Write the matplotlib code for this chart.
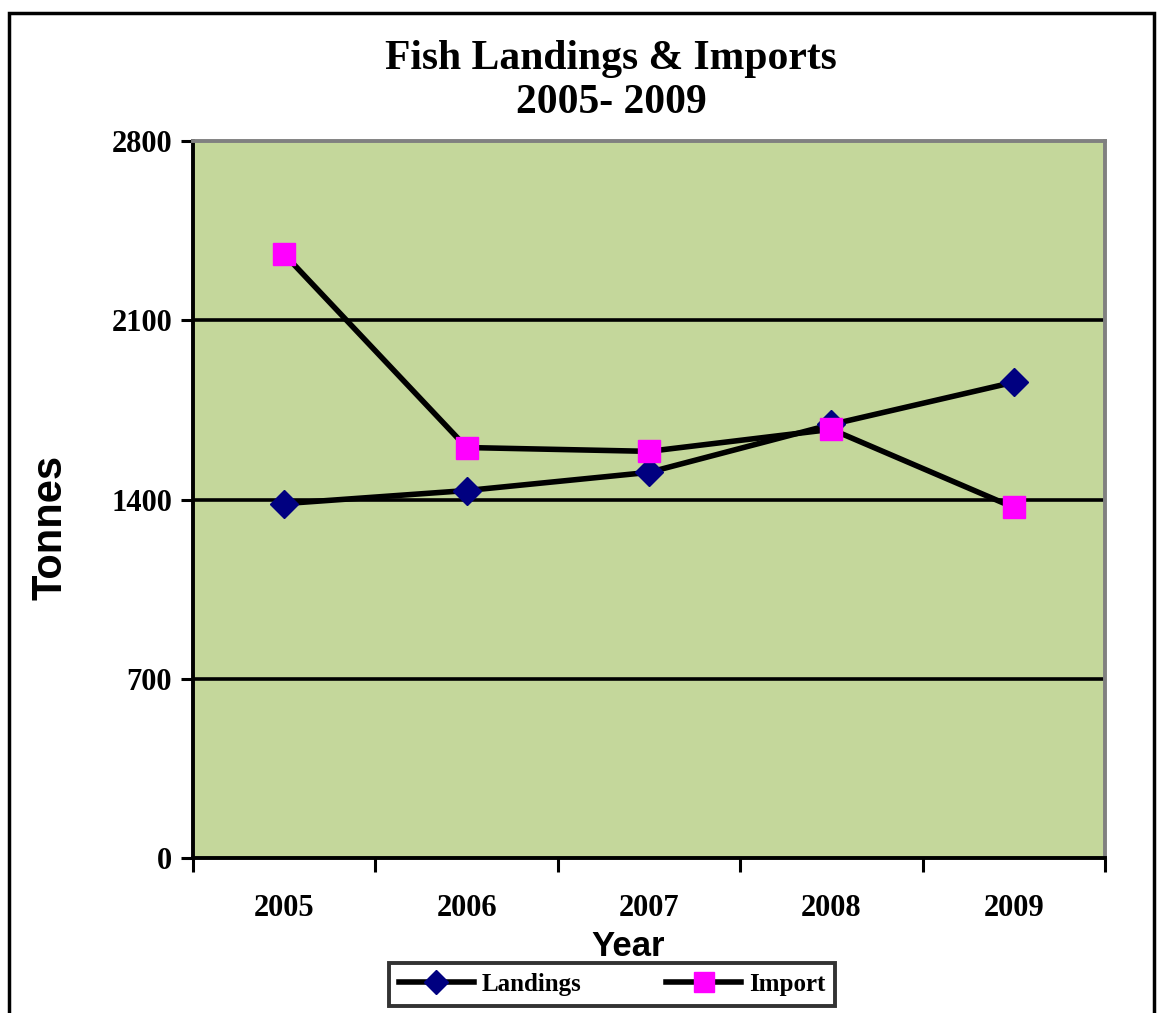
import matplotlib
matplotlib.use("Agg")
import matplotlib.pyplot as plt
from matplotlib.patches import Rectangle
from matplotlib.lines import Line2D

years = ["2005", "2006", "2007", "2008", "2009"]
landings = [1384, 1435, 1506, 1693, 1858]
imports = [2358, 1603, 1588, 1674, 1369]
yticks = [0, 700, 1400, 2100, 2800]

fig = plt.figure(figsize=(11.64, 10.13), dpi=100)
fig.patch.set_facecolor("white")

# outer chart border
fig.patches.append(Rectangle((9/1164, -0.05), (1154-9)/1164, 1.05 - 13/1013,
                             transform=fig.transFigure, fill=False,
                             edgecolor="black", linewidth=2.5, zorder=0))

ax = fig.add_axes([193/1164, 1-858/1013, (1105-193)/1164, (858-141)/1013])
ax.set_facecolor("#C4D79B")

x = list(range(len(years)))
ax.plot(x, landings, color="black", lw=4, marker="D", markersize=14,
        markerfacecolor="#000080", markeredgecolor="#000080", zorder=3,
        label="Landings")
ax.plot(x, imports, color="black", lw=4, marker="s", markersize=16,
        markerfacecolor="#FF00FF", markeredgecolor="#FF00FF", zorder=4,
        label="Import")

ax.set_xlim(-0.5, len(years) - 0.5)
ax.set_ylim(0, 2800)
ax.set_yticks(yticks)
ax.set_yticklabels([str(v) for v in yticks])
for v in yticks[1:-1]:
    ax.axhline(v, color="black", lw=2.6, zorder=1)

ax.set_xticks([i - 0.5 for i in range(len(years) + 1)])
ax.set_xticklabels([])
ax.set_xticks(x, minor=True)
ax.set_xticklabels(years, minor=True)
ax.tick_params(axis="x", which="major", direction="out", length=10, width=2.2, color="black")
ax.tick_params(axis="x", which="minor", length=0, pad=26)
ax.tick_params(axis="y", direction="out", length=9, width=2.2, pad=6)

serif_bold = dict(family="Liberation Serif", weight="bold")
for lab in ax.get_xticklabels(minor=True) + ax.get_yticklabels():
    lab.set_fontfamily("Liberation Serif")
    lab.set_fontweight("bold")
    lab.set_fontsize(22)

for s in ["top", "right"]:
    ax.spines[s].set_color("#808080")
    ax.spines[s].set_linewidth(2.8)
for s in ["left", "bottom"]:
    ax.spines[s].set_color("black")
    ax.spines[s].set_linewidth(2.8)

fig.text(611/1164, 1-81/1013, "Fish Landings & Imports\n2005- 2009", ha="center",
         va="center", fontsize=30, linespacing=1.2, **serif_bold)

fig.text(51/1164, 1-527/1013, "Tonnes", rotation=90, ha="center", va="center",
         fontsize=30, family="Liberation Sans", weight="bold")
fig.text(628/1164, 1-946/1013, "Year", ha="center", va="center",
         fontsize=25, family="Liberation Sans", weight="bold")

handles = [
    Line2D([], [], color="black", lw=4, marker="D", markersize=12,
           markerfacecolor="#000080", markeredgecolor="#000080"),
    Line2D([], [], color="black", lw=4, marker="s", markersize=14,
           markerfacecolor="#FF00FF", markeredgecolor="#FF00FF"),
]
leg = fig.legend(handles, ["Landings", "Import"], loc="center",
                 bbox_to_anchor=(612/1164, 1-984/1013), ncol=2, frameon=True,
                 fancybox=False, edgecolor="black", handlelength=3.0,
                 columnspacing=3.4, handletextpad=0.3, borderpad=0.4,
                 borderaxespad=0,
                 prop=dict(family="Liberation Serif", weight="bold", size=18))
leg.get_frame().set_linewidth(2.8)

fig.savefig("out.png", dpi=100)
